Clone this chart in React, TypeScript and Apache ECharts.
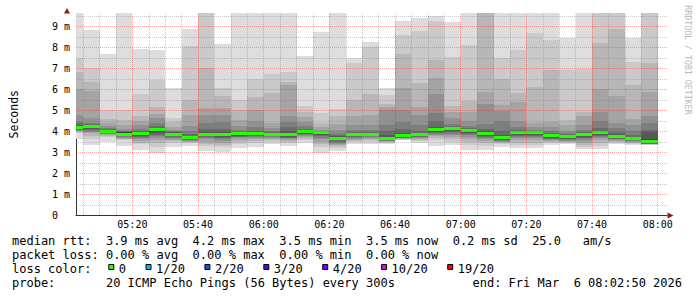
import React, { useEffect, useRef } from "react";
import * as echarts from "echarts";

// ---- time frame (minutes are counted from 05:00) ----
const graphStart = "05:02:50";
const graphEnd = "08:02:50";

// end time of every 5-minute RRD step shown in the graph
const binEnds = [
  "05:05", "05:10", "05:15", "05:20", "05:25", "05:30", "05:35", "05:40", "05:45",
  "05:50", "05:55", "06:00", "06:05", "06:10", "06:15", "06:20", "06:25", "06:30",
  "06:35", "06:40", "06:45", "06:50", "06:55", "07:00", "07:05", "07:10", "07:15",
  "07:20", "07:25", "07:30", "07:35", "07:40", "07:45", "07:50", "07:55", "08:00",
];

// median rtt per step (ms)
const medians = [
  4.17, 4.2, 4.0, 3.85, 3.86, 4.05, 3.85, 3.67, 3.85, 3.85, 3.86, 3.9,
  3.85, 3.82, 3.97, 3.92, 3.66, 3.84, 3.85, 3.65, 3.78, 3.85, 4.09, 4.12,
  4.01, 3.87, 3.68, 3.93, 3.93, 3.77, 3.73, 3.84, 3.93, 3.76, 3.64, 3.48,
];

// 20 pings per step, sorted from the slowest (ping 20) to the fastest (ping 1), ms
const pings = [
  [9.9, 7.46, 6.82, 5.98, 4.76, 4.5, 4.38, 4.3, 4.25, 4.21, 4.13, 4.11, 4.09, 4.06, 4.03, 4.0, 3.98, 3.95, 3.9, 3.6],
  [8.81, 6.98, 6.35, 5.92, 4.6, 4.4, 4.32, 4.28, 4.25, 4.23, 4.16, 4.13, 4.1, 4.05, 4.0, 3.95, 3.89, 3.75, 3.6, 3.33],
  [7.68, 5.0, 4.55, 4.4, 4.24, 4.15, 4.1, 4.07, 4.05, 4.03, 3.97, 3.95, 3.93, 3.9, 3.88, 3.85, 3.82, 3.78, 3.7, 3.5],
  [9.9, 5.0, 4.52, 4.29, 4.1, 4.02, 3.98, 3.95, 3.93, 3.91, 3.82, 3.8, 3.78, 3.75, 3.72, 3.68, 3.64, 3.6, 3.57, 3.3],
  [7.9, 5.78, 4.71, 4.48, 4.3, 4.1, 4.0, 3.95, 3.92, 3.9, 3.83, 3.8, 3.75, 3.7, 3.65, 3.6, 3.52, 3.45, 3.38, 3.1],
  [7.86, 6.41, 5.14, 4.82, 4.6, 4.4, 4.25, 4.15, 4.1, 4.08, 4.0, 3.95, 3.9, 3.82, 3.75, 3.65, 3.55, 3.42, 3.25, 2.97],
  [6.05, 4.62, 4.44, 4.2, 4.05, 3.98, 3.95, 3.93, 3.91, 3.89, 3.8, 3.77, 3.74, 3.7, 3.67, 3.63, 3.58, 3.52, 3.45, 3.25],
  [8.85, 8.06, 5.48, 4.76, 4.26, 4.0, 3.85, 3.78, 3.74, 3.72, 3.64, 3.62, 3.6, 3.58, 3.56, 3.54, 3.5, 3.46, 3.42, 3.3],
  [10.5, 10.0, 6.98, 5.1, 4.78, 4.4, 4.1, 3.97, 3.92, 3.89, 3.82, 3.8, 3.77, 3.73, 3.68, 3.6, 3.5, 3.4, 3.3, 3.05],
  [8.15, 6.03, 5.65, 5.08, 4.76, 4.45, 4.1, 3.97, 3.92, 3.89, 3.82, 3.78, 3.73, 3.68, 3.6, 3.52, 3.45, 3.35, 3.25, 3.0],
  [9.9, 5.48, 5.0, 4.52, 4.25, 4.05, 3.96, 3.93, 3.9, 3.88, 3.83, 3.8, 3.77, 3.73, 3.7, 3.65, 3.58, 3.5, 3.4, 3.17],
  [9.9, 6.5, 5.6, 5.0, 4.5, 4.2, 4.02, 3.96, 3.93, 3.92, 3.87, 3.84, 3.8, 3.76, 3.72, 3.67, 3.6, 3.52, 3.45, 3.25],
  [9.9, 6.73, 5.82, 4.37, 4.15, 4.0, 3.95, 3.92, 3.9, 3.88, 3.82, 3.8, 3.77, 3.74, 3.7, 3.66, 3.62, 3.57, 3.5, 3.36],
  [9.9, 6.83, 6.35, 6.2, 4.71, 4.45, 4.2, 4.0, 3.9, 3.86, 3.78, 3.75, 3.72, 3.68, 3.65, 3.6, 3.55, 3.48, 3.42, 3.3],
  [7.58, 5.17, 4.92, 4.65, 4.45, 4.25, 4.1, 4.05, 4.02, 4.0, 3.94, 3.91, 3.88, 3.84, 3.8, 3.75, 3.7, 3.62, 3.55, 3.41],
  [8.73, 4.84, 4.4, 4.2, 4.05, 4.0, 3.97, 3.96, 3.95, 3.94, 3.88, 3.84, 3.8, 3.75, 3.68, 3.6, 3.5, 3.38, 3.25, 2.95],
  [9.9, 5.05, 4.72, 4.35, 4.05, 3.9, 3.8, 3.75, 3.72, 3.7, 3.62, 3.58, 3.55, 3.5, 3.45, 3.4, 3.35, 3.28, 3.2, 3.05],
  [7.5, 7.22, 5.48, 4.73, 4.3, 4.05, 3.95, 3.9, 3.88, 3.87, 3.8, 3.77, 3.74, 3.7, 3.66, 3.62, 3.58, 3.53, 3.47, 3.4],
  [8.25, 7.98, 5.78, 4.76, 4.3, 4.05, 3.95, 3.9, 3.88, 3.87, 3.82, 3.8, 3.77, 3.74, 3.7, 3.66, 3.6, 3.55, 3.48, 3.4],
  [6.05, 5.72, 5.3, 5.15, 5.0, 4.29, 4.0, 3.8, 3.73, 3.7, 3.62, 3.6, 3.58, 3.56, 3.54, 3.52, 3.5, 3.47, 3.44, 3.4],
  [9.25, 8.58, 7.68, 6.04, 5.0, 4.45, 4.1, 3.92, 3.85, 3.82, 3.75, 3.73, 3.71, 3.69, 3.67, 3.65, 3.63, 3.61, 3.59, 3.56],
  [9.37, 8.78, 6.3, 5.12, 4.76, 4.3, 4.0, 3.92, 3.9, 3.88, 3.82, 3.79, 3.76, 3.73, 3.7, 3.66, 3.62, 3.57, 3.52, 3.45],
  [9.5, 9.26, 7.4, 6.52, 5.78, 4.84, 4.5, 4.2, 4.15, 4.12, 4.05, 4.0, 3.96, 3.92, 3.88, 3.82, 3.75, 3.65, 3.55, 3.3],
  [9.17, 7.54, 5.18, 4.9, 4.6, 4.35, 4.22, 4.18, 4.16, 4.15, 4.08, 4.03, 3.98, 3.93, 3.87, 3.8, 3.72, 3.62, 3.5, 3.32],
  [9.9, 8.1, 5.45, 4.92, 4.5, 4.25, 4.12, 4.07, 4.05, 4.04, 3.98, 3.95, 3.91, 3.86, 3.8, 3.72, 3.62, 3.5, 3.35, 3.08],
  [10.5, 10.2, 10.0, 5.87, 5.3, 4.31, 4.1, 4.0, 3.95, 3.92, 3.83, 3.8, 3.76, 3.72, 3.67, 3.6, 3.52, 3.42, 3.3, 3.1],
  [9.9, 7.46, 6.5, 5.22, 4.95, 4.5, 4.0, 3.8, 3.75, 3.72, 3.65, 3.62, 3.59, 3.56, 3.53, 3.5, 3.46, 3.42, 3.36, 3.25],
  [9.9, 7.84, 5.8, 5.36, 4.5, 4.2, 4.05, 3.98, 3.96, 3.95, 3.9, 3.87, 3.83, 3.78, 3.72, 3.65, 3.56, 3.45, 3.35, 3.17],
  [9.9, 8.65, 6.1, 4.37, 4.2, 4.05, 4.0, 3.97, 3.96, 3.95, 3.9, 3.86, 3.82, 3.77, 3.72, 3.65, 3.56, 3.45, 3.35, 3.2],
  [9.9, 8.33, 6.9, 4.42, 4.2, 4.0, 3.9, 3.84, 3.81, 3.8, 3.73, 3.7, 3.67, 3.64, 3.6, 3.56, 3.52, 3.47, 3.42, 3.33],
  [8.41, 6.9, 4.52, 4.3, 4.0, 3.9, 3.85, 3.81, 3.79, 3.77, 3.7, 3.67, 3.64, 3.6, 3.57, 3.53, 3.5, 3.46, 3.43, 3.38],
  [9.9, 6.95, 4.92, 4.7, 4.29, 4.05, 3.95, 3.9, 3.88, 3.87, 3.8, 3.76, 3.72, 3.67, 3.6, 3.52, 3.42, 3.32, 3.22, 3.12],
  [10.5, 10.0, 8.19, 5.98, 4.92, 4.5, 4.15, 4.0, 3.96, 3.95, 3.9, 3.87, 3.83, 3.78, 3.72, 3.65, 3.55, 3.42, 3.3, 3.12],
  [10.5, 10.0, 8.87, 5.69, 4.37, 4.15, 3.95, 3.85, 3.8, 3.79, 3.73, 3.7, 3.67, 3.64, 3.6, 3.56, 3.51, 3.46, 3.41, 3.36],
  [8.43, 7.3, 6.19, 4.58, 4.29, 4.0, 3.8, 3.72, 3.69, 3.67, 3.61, 3.59, 3.57, 3.55, 3.52, 3.49, 3.46, 3.42, 3.38, 3.32],
  [10.5, 10.0, 7.22, 5.87, 4.71, 4.4, 4.05, 3.97, 3.62, 3.55, 3.44, 3.42, 3.41, 3.4, 3.39, 3.38, 3.37, 3.36, 3.35, 3.33],
];

// axis ticks
const yTickLabels = ["0", "1 m", "2 m", "3 m", "4 m", "5 m", "6 m", "7 m", "8 m", "9 m"];
const xTickLabels = ["05:20", "05:40", "06:00", "06:20", "06:40", "07:00", "07:20", "07:40", "08:00"];

// legend
const lossLabels = ["0", "1/20", "2/20", "3/20", "4/20", "10/20", "19/20"];
const lossColors = ["#26ff00", "#00b8ff", "#0059ff", "#5e00ff", "#7e00ff", "#dd00ff", "#ff0000"];
const medianStats = ["3.9 ms avg", "4.2 ms max", "3.5 ms min", "3.5 ms now", "0.2 ms sd", "25.0   am/s"];
const lossStats = ["0.00 % avg", "0.00 % max", "0.00 % min", "0.00 % now"];
const probeText = "20 ICMP Echo Pings (56 Bytes) every 300s";
const endText = "end: Fri Mar  6 08:02:50 2026";

const Y_MAX = 9.6;
const MONO = "DejaVu Sans Mono";

const toMin = (s: string) => {
  const [h, m, sec] = s.split(":").map(Number);
  return (h - 5) * 60 + m + (sec || 0) / 60;
};
const nb = (s: string) => s.replace(/ /g, "\u00a0");
const gray = (k: number) => {
  const g = Math.round((190 / 10) * (10 - k) + 50);
  const h = g.toString(16).padStart(2, "0");
  return "#" + h + h + h;
};

export default function App() {
  const ref = useRef<HTMLDivElement>(null);
  useEffect(() => {
    if (!ref.current) return;
    const chart = echarts.init(ref.current, undefined, { renderer: "svg" });
    const t0 = toMin(graphStart);
    const t1 = toMin(graphEnd);
    const smokeData = binEnds.map((e, i) => [
      i === 0 ? t0 : toMin(binEnds[i - 1]),
      toMin(e),
      medians[i],
      ...pings[i],
    ]);
    const xTickValues = xTickLabels.map(toMin);
    const MAJOR = "rgba(255,0,0,0.33)";
    const MINOR = "rgba(120,120,120,0.38)";

    const hGrid: number[][] = [];
    for (let v = 0.5; v < Y_MAX; v += 0.5) {
      const major = Math.abs(v - Math.round(v)) < 1e-6;
      hGrid.push([t0 + 1, v, major ? 1 : 0]);
    }
    const vGridLines: any[] = [];
    for (let m = 5; m <= 180; m += 5) {
      vGridLines.push({ xAxis: m, lineStyle: { color: m % 20 === 0 ? MAJOR : MINOR } });
    }

    const legendX = 12;
    const rowY = [241, 255, 269, 283];
    const colW = 7.224;
    const statCols = [13, 25, 37, 49, 61, 72];
    const boxX: number[] = [];
    let bx = 108.3;
    lossLabels.forEach((l) => {
      boxX.push(bx);
      bx = bx + 10.5 + l.length * colW + 19.5;
    });
    const textStyle = (extra: any) => ({ fontFamily: MONO, fontSize: 12, fill: "#000", verticalAlign: "middle", ...extra });

    const graphics: any[] = [
      { type: "text", x: legendX, y: rowY[0], style: textStyle({ text: nb("median rtt:") }) },
      ...medianStats.map((s, i) => ({
        type: "text", x: legendX + statCols[i] * colW, y: rowY[0], style: textStyle({ text: nb(s) }),
      })),
      { type: "text", x: legendX, y: rowY[1], style: textStyle({ text: nb("packet loss:") }) },
      ...lossStats.map((s, i) => ({
        type: "text", x: legendX + statCols[i] * colW, y: rowY[1], style: textStyle({ text: nb(s) }),
      })),
      { type: "text", x: legendX, y: rowY[2], style: textStyle({ text: nb("loss color:") }) },
      ...lossLabels.map((l, i) => ({
        type: "rect", shape: { x: boxX[i] + 0.5, y: 264.5, width: 5, height: 5 },
        style: { fill: lossColors[i], stroke: "#000", lineWidth: 1 },
      })),
      ...lossLabels.map((l, i) => ({
        type: "text", x: boxX[i] + 10.5, y: rowY[2], style: textStyle({ text: l }),
      })),
      { type: "text", x: legendX, y: rowY[3], style: textStyle({ text: nb("probe:") }) },
      { type: "text", x: legendX + 13 * colW, y: rowY[3], style: textStyle({ text: nb(probeText) }) },
      { type: "text", x: 682, y: rowY[3], style: textStyle({ text: nb(endText), align: "right" }) },
      {
        type: "text", x: 688, y: 60, rotation: -Math.PI / 2,
        style: { text: nb("RRDTOOL / TOBI OETIKER"), fontFamily: MONO, fontSize: 8.25, fill: "#b8b8b8", align: "center", verticalAlign: "middle" },
      },
      { type: "polygon", shape: { points: [[64, 13.5], [70, 13.5], [67, 8]] }, style: { fill: "#8b1a1a" }, z: 100 },
      { type: "polygon", shape: { points: [[667.5, 212.5], [667.5, 218.5], [673.5, 215.5]] }, style: { fill: "#8b1a1a" }, z: 100 },
    ];

    chart.setOption({
      animation: false,
      backgroundColor: "#ffffff",
      grid: { left: 67, right: 30, top: 13.4, bottom: 82 },
      xAxis: {
        type: "value",
        min: t0,
        max: t1,
        axisLine: { show: true, onZero: false, lineStyle: { color: "#333", width: 1 } },
        axisTick: { show: false },
        splitLine: { show: false },
        axisLabel: {
          customValues: xTickValues,
          formatter: (v: number) => {
            const idx = xTickValues.findIndex((x) => Math.abs(x - v) < 0.01);
            return idx >= 0 ? xTickLabels[idx] : "";
          },
          fontFamily: MONO,
          fontSize: 10,
          color: "#000",
          margin: 4,
        },
      },
      yAxis: {
        type: "value",
        min: 0,
        max: Y_MAX,
        interval: 1,
        name: "Seconds",
        nameLocation: "middle",
        nameRotate: 90,
        nameGap: 56,
        nameTextStyle: { fontFamily: MONO, fontSize: 11.5, color: "#000" },
        axisLine: { show: true, onZero: false, lineStyle: { color: "#333", width: 1 } },
        axisTick: { show: false },
        splitLine: { show: false },
        axisLabel: {
          formatter: (v: number) => (Math.abs(v - Math.round(v)) < 1e-6 ? yTickLabels[Math.round(v)] || "" : ""),
          align: "left",
          margin: 24,
          fontFamily: MONO,
          fontSize: 10,
          color: "#000",
        },
      },
      series: [
        {
          type: "custom",
          name: "smoke",
          z: 2,
          data: smokeData,
          renderItem: (params: any, api: any) => {
            const x0 = api.value(0);
            const x1 = api.value(1);
            const med = api.value(2);
            const p: number[] = [];
            for (let j = 0; j < 20; j++) p.push(api.value(3 + j));
            const px0 = Math.round(api.coord([x0, 0])[0]);
            const px1 = Math.round(api.coord([x1, 0])[0]);
            const yPx = (v: number) => Math.round(api.coord([x0, Math.min(Math.max(v, 0), Y_MAX)])[1]);
            const children: any[] = [];
            for (let k = 1; k <= 10; k++) {
              const yt = yPx(p[k - 1]);
              const yb = yPx(p[20 - k]);
              if (yb > yt) {
                children.push({
                  type: "rect",
                  shape: { x: px0, y: yt, width: px1 - px0, height: yb - yt },
                  style: { fill: gray(k) },
                });
              }
            }
            const ym = api.coord([x0, med])[1];
            children.push({
              type: "rect",
              shape: { x: px0, y: Math.round(ym - 1.5), width: px1 - px0, height: 3 },
              style: { fill: lossColors[0] },
            });
            return { type: "group", children };
          },
        },
        {
          type: "custom",
          name: "hgrid",
          z: 5,
          silent: true,
          data: hGrid,
          renderItem: (params: any, api: any) => {
            const cs = params.coordSys;
            const v = api.value(1);
            const major = api.value(2) === 1;
            const y = Math.round(api.coord([t0, v])[1]) + 0.5;
            return {
              type: "line",
              shape: { x1: cs.x, y1: y, x2: cs.x + cs.width + 1, y2: y },
              style: { stroke: major ? MAJOR : MINOR, lineWidth: 1, lineDash: [1, 1] },
            };
          },
        },
        {
          type: "line",
          name: "vgrid",
          z: 5,
          silent: true,
          data: [],
          markLine: {
            silent: true,
            symbol: ["none", "none"],
            label: { show: false },
            animation: false,
            lineStyle: { type: [1, 1], width: 1, color: MINOR },
            data: vGridLines,
          },
        },
      ],
      graphic: graphics,
    });
    return () => chart.dispose();
  }, []);
  return <div ref={ref} style={{ position: "absolute", left: 0, top: 0, width: 697, height: 297 }} />;
}
